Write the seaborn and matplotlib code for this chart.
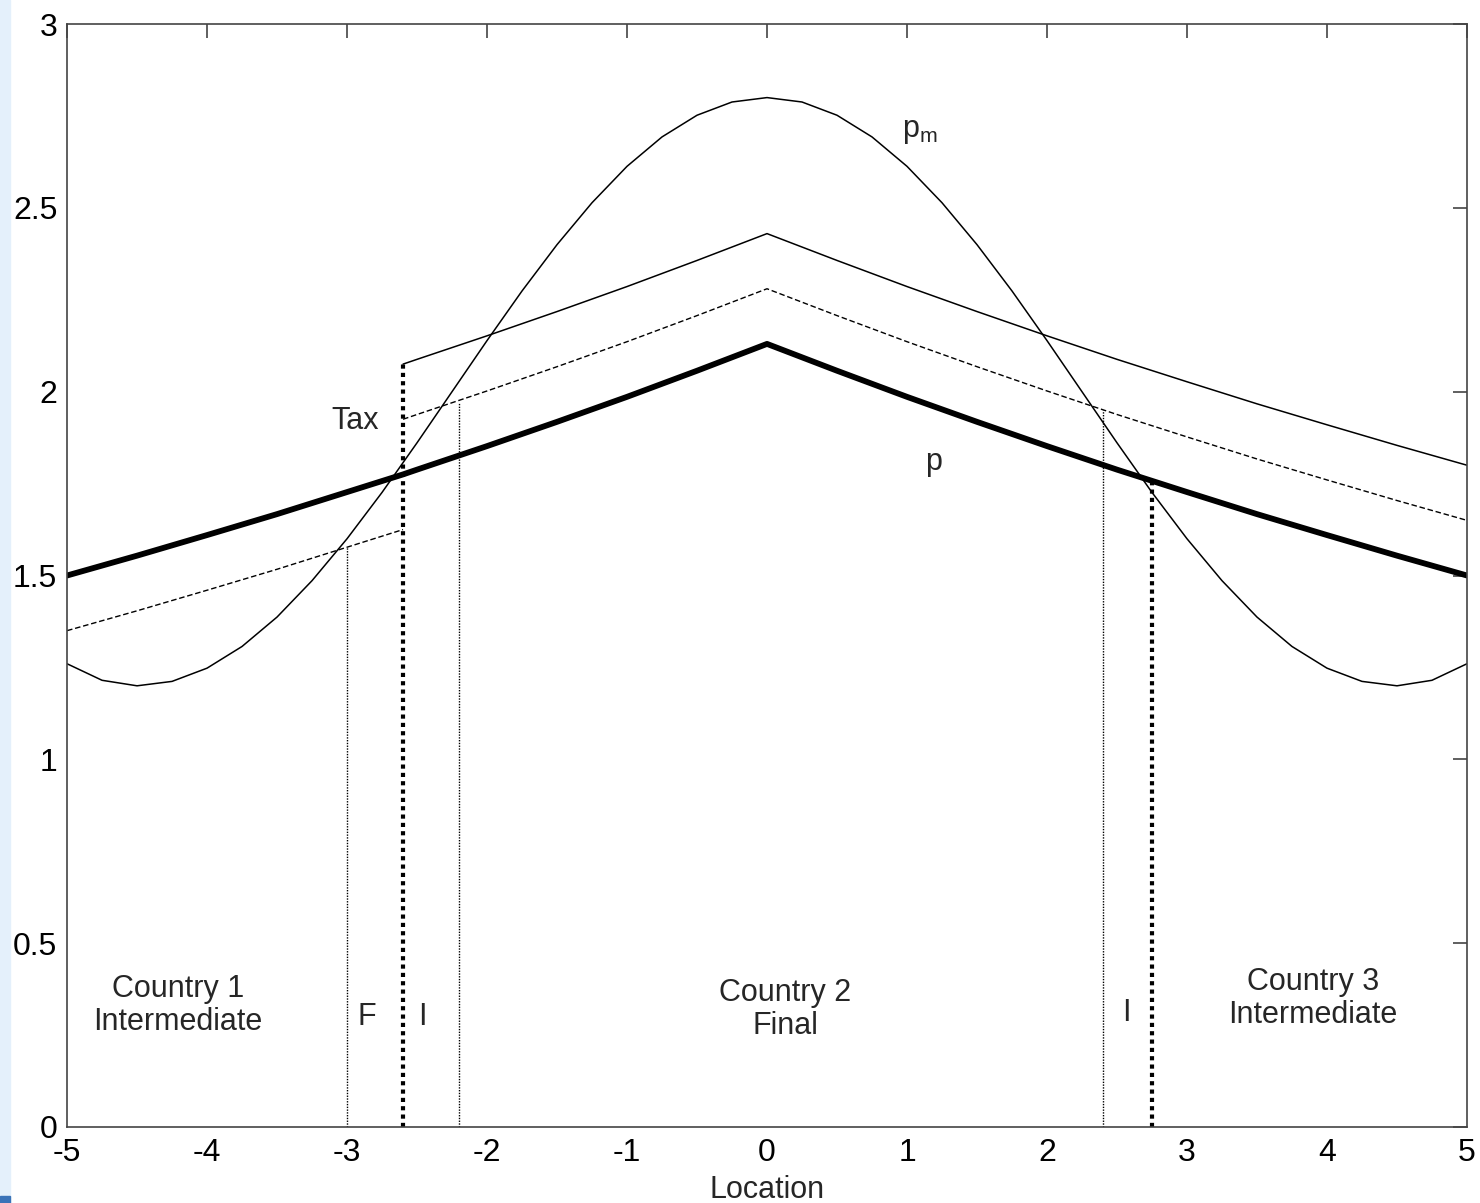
import matplotlib
matplotlib.use("Agg")
import matplotlib.pyplot as plt
import seaborn as sns
from matplotlib.patches import Rectangle

# -------------------------------
# Data
# -------------------------------

# p_m (thin curve, market price)
pm_x = [-5, -4.75, -4.5, -4.25, -4, -3.75, -3.5, -3.25, -3, -2.75, -2.5, -2.25,
        -2, -1.75, -1.5, -1.25, -1, -0.75, -0.5, -0.25, 0,
        0.25, 0.5, 0.75, 1, 1.25, 1.5, 1.75, 2, 2.25, 2.5, 2.75,
        3, 3.25, 3.5, 3.75, 4, 4.25, 4.5, 4.75, 5]
pm_y = [1.260, 1.215, 1.200, 1.212, 1.248, 1.307, 1.387, 1.486, 1.600, 1.726, 1.861, 2.000,
        2.139, 2.274, 2.400, 2.514, 2.613, 2.693, 2.752, 2.788, 2.800,
        2.788, 2.752, 2.693, 2.613, 2.514, 2.400, 2.274, 2.139, 2.000, 1.861, 1.726,
        1.600, 1.486, 1.387, 1.307, 1.248, 1.212, 1.200, 1.215, 1.260]

# p (thick line)
p_x = [-5, -4.5, -4, -3.5, -3, -2.6, -2.5, -2, -1.5, -1, -0.5, 0,
       0.5, 1, 1.5, 2, 2.5, 3, 3.5, 4, 4.5, 5]
p_y = [1.500, 1.554, 1.610, 1.667, 1.727, 1.775, 1.788, 1.852, 1.918, 1.986, 2.057, 2.130,
       2.057, 1.986, 1.918, 1.852, 1.788, 1.727, 1.667, 1.610, 1.554, 1.500]

# upper solid and upper dashed lines (right of the border at -2.6)
up_x = [-2.6, -2.5, -2, -1.5, -1, -0.5, 0, 0.5, 1, 1.5, 2, 2.5, 3, 3.5, 4, 4.5, 5]
tax_full = [2.075, 2.088, 2.152, 2.218, 2.286, 2.357, 2.430, 2.357, 2.286, 2.218,
            2.152, 2.088, 2.027, 1.967, 1.910, 1.854, 1.800]
tax_half = [1.925, 1.938, 2.002, 2.068, 2.136, 2.207, 2.280, 2.207, 2.136, 2.068,
            2.002, 1.938, 1.877, 1.817, 1.760, 1.704, 1.650]

# lower dashed line (left of the border)
low_x = [-5, -4.5, -4, -3.5, -3, -2.6]
low_y = [1.350, 1.404, 1.460, 1.517, 1.577, 1.625]

# vertical markers
thin_vx = [-3.0, -2.2, 2.4]
thin_vtop = [1.577, 1.970, 1.950]
thick_vx = [-2.6, 2.75]
thick_vtop = [2.075, 1.757]

# -------------------------------
# Plot
# -------------------------------

sns.set_style("white")
plt.rcParams['font.family'] = ['Liberation Sans', 'DejaVu Sans']
plt.rcParams['mathtext.fontset'] = 'custom'
plt.rcParams['mathtext.rm'] = 'Liberation Sans'
plt.rcParams['axes.unicode_minus'] = False

fig = plt.figure(figsize=(14.8, 12.03), dpi=100)
fig.patches.append(Rectangle((0, 0), 0.007, 1, transform=fig.transFigure,
                             color='#e4f0fb', zorder=0))
fig.patches.append(Rectangle((0, 0), 0.007, 0.006, transform=fig.transFigure,
                             color='#3a73b8', zorder=1))
ax = fig.add_axes([0.0453, 0.0632, 0.9459, 0.9168])

sns.lineplot(x=pm_x, y=pm_y, color='black', lw=1.1, ax=ax)
sns.lineplot(x=p_x, y=p_y, color='black', lw=4.2, ax=ax)
sns.lineplot(x=up_x, y=tax_full, color='black', lw=1.1, ax=ax)
sns.lineplot(x=up_x, y=tax_half, color='black', lw=1.0, ax=ax,
             linestyle=(0, (4, 2)))
sns.lineplot(x=low_x, y=low_y, color='black', lw=1.0, ax=ax,
             linestyle=(0, (4, 2)))

ax.vlines(thin_vx, 0, thin_vtop, colors='black', lw=1.0, linestyles=(0, (1, 1)))
ax.vlines(thick_vx, 0, thick_vtop, colors='black', lw=3.0, linestyles=(0, (1, 1)))

# labels inside the plot
fs = 22
ax.text(1.09, 2.71, r'p$_{\mathrm{m}}$', fontsize=fs, ha='center', va='center')
ax.text(1.19, 1.81, 'p', fontsize=fs, ha='center', va='center')
ax.text(-2.94, 1.92, 'Tax', fontsize=fs, ha='center', va='center')
ax.text(-4.21, 0.33, 'Country 1\nIntermediate', fontsize=fs, ha='center',
        va='center', linespacing=1.15)
ax.text(-2.86, 0.30, 'F', fontsize=fs, ha='center', va='center')
ax.text(-2.46, 0.30, 'I', fontsize=fs, ha='center', va='center')
ax.text(0.13, 0.32, 'Country 2\nFinal', fontsize=fs, ha='center',
        va='center', linespacing=1.15)
ax.text(2.57, 0.31, 'I', fontsize=fs, ha='center', va='center')
ax.text(3.90, 0.35, 'Country 3\nIntermediate', fontsize=fs, ha='center',
        va='center', linespacing=1.15)

ax.set_xlim(-5, 5)
ax.set_ylim(0, 3)
ax.set_xticks(range(-5, 6))
ax.set_yticks([0, 0.5, 1, 1.5, 2, 2.5, 3])
ax.set_yticklabels(['0', '0.5', '1', '1.5', '2', '2.5', '3'])
ax.tick_params(direction='in', length=10, width=1.2, colors='#444444',
               labelcolor='black', labelsize=23, top=True, right=True)
ax.tick_params(axis='x', pad=8)
ax.tick_params(axis='y', pad=7)
ax.set_xlabel("Location", fontsize=22, labelpad=5)
ax.set_ylabel("")
for s in ax.spines.values():
    s.set_color('#444444')
    s.set_linewidth(1.2)

fig.savefig("out.png", dpi=100)
